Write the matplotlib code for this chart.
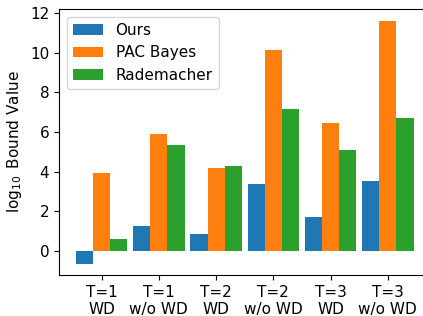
import numpy as np
import matplotlib
matplotlib.use("Agg")
import matplotlib.pyplot as plt

# valores (log10 do bound)
grupos = ["T=1\nWD", "T=1\nw/o WD", "T=2\nWD", "T=2\nw/o WD", "T=3\nWD", "T=3\nw/o WD"]
ours = [-0.64, 1.26, 0.86, 3.38, 1.71, 3.53]
pac_bayes = [3.93, 5.88, 4.17, 10.13, 6.45, 11.6]
rademacher = [0.6, 5.34, 4.29, 7.16, 5.09, 6.71]

plt.rcParams["font.size"] = 11

x = np.arange(len(grupos))
w = 0.3

fig = plt.figure(figsize=(4.23, 3.16), dpi=100)
ax = fig.add_axes([0.1395, 0.130, 0.878, 0.8415])

ax.bar(x - w, ours, w, label="Ours", color="#1f77b4")
ax.bar(x, pac_bayes, w, label="PAC Bayes", color="#ff7f0e")
ax.bar(x + w, rademacher, w, label="Rademacher", color="#2ca02c")

ax.set_xticks(x)
ax.set_xticklabels(grupos)
ax.set_ylabel(r"$\log_{10}$ Bound Value")
ax.set_xlim(-0.745, 5.745)
ax.set_ylim(-1.2, 12.2)
ax.set_yticks([0, 2, 4, 6, 8, 10, 12])
ax.legend(loc="upper left")

fig.savefig("out.png", dpi=100)
